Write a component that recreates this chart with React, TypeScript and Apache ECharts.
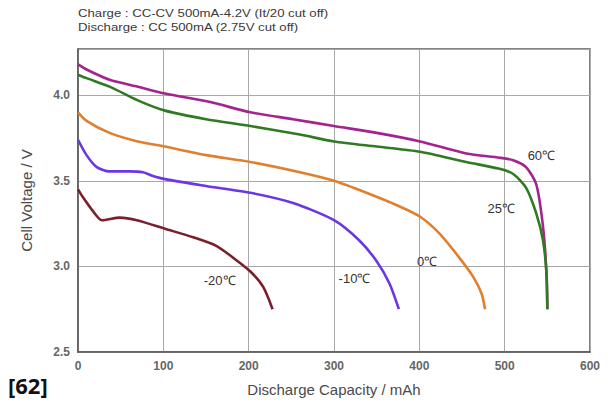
import React, { useEffect, useRef } from "react";
import * as echarts from "echarts";

const titleLines = [
  "Charge : CC-CV 500mA-4.2V (It/20 cut off)",
  "Discharge : CC 500mA (2.75V cut off)",
];
const xName = "Discharge Capacity / mAh";
const yName = "Cell Voltage / V";
const refTag = "[62]";

const curve60: [number, number][] = [
  [0, 4.18], [10, 4.15], [37, 4.09], [70, 4.05], [102, 4.01], [155, 3.96], [202, 3.9],
  [252, 3.86], [300, 3.82], [350, 3.78], [401, 3.73], [455, 3.66], [494, 3.635],
  [510, 3.62], [525, 3.58], [537, 3.48], [545, 3.23], [549, 2.96], [550, 2.75],
];
const curve25: [number, number][] = [
  [0, 4.12], [10, 4.1], [37, 4.05], [70, 3.97], [102, 3.91], [150, 3.86], [202, 3.82],
  [260, 3.77], [300, 3.73], [350, 3.7], [401, 3.67], [455, 3.61], [494, 3.57],
  [510, 3.54], [525, 3.46], [537, 3.31], [545, 3.15], [549, 2.96], [550, 2.75],
];
const curve0: [number, number][] = [
  [0, 3.9], [10, 3.85], [37, 3.78], [70, 3.73], [102, 3.7], [150, 3.65], [202, 3.61],
  [260, 3.55], [300, 3.5], [338, 3.43], [377, 3.35], [401, 3.29], [424, 3.19],
  [447, 3.05], [463, 2.94], [473, 2.84], [477, 2.75],
];
const curveM10: [number, number][] = [
  [0, 3.74], [10, 3.65], [22, 3.58], [37, 3.555], [60, 3.555], [76, 3.55], [87, 3.53],
  [102, 3.51], [150, 3.47], [202, 3.43], [252, 3.37], [300, 3.27], [330, 3.15],
  [350, 3.03], [365, 2.9], [376, 2.75],
];
const curveM20: [number, number][] = [
  [0, 3.45], [5, 3.41], [18, 3.32], [28, 3.27], [49, 3.285], [69, 3.27], [102, 3.22],
  [135, 3.17], [162, 3.12], [182, 3.05], [202, 2.97], [217, 2.88], [228, 2.75],
];

const seriesNames = ["60℃", "25℃", "0℃", "-10℃", "-20℃"];
const seriesData = [curve60, curve25, curve0, curveM10, curveM20];
const seriesColors = ["#a3238f", "#2f7a22", "#e07f2e", "#6a36e6", "#7b1f2c"];
const labelAt: [number, number][] = [
  [543, 3.65], [496, 3.34], [409, 3.03], [324, 2.93], [166, 2.915],
];

const xTicks = { min: 0, max: 600, interval: 100 };
const yTicks = { min: 2.5, max: 4.27, interval: 0.5 };

export default function App() {
  const ref = useRef<HTMLDivElement>(null);
  useEffect(() => {
    if (!ref.current) return;
    const chart = echarts.init(ref.current, undefined, { renderer: "svg" });
    const font = "Liberation Sans, Arial, sans-serif";
    chart.setOption({
      animation: false,
      backgroundColor: "#ffffff",
      grid: {
        left: 78, right: 18, top: 49, bottom: 52,
        show: true, borderColor: "#5a5a5a", borderWidth: 1.5,
      },
      graphic: [
        {
          type: "text", x: 78, y: 6, scaleX: 1.2,
          style: { text: titleLines.join("\n"), font: `11px ${font}`, fill: "#3a3a3a", lineHeight: 14 },
        },
        {
          type: "text", left: 8, top: 374,
          style: { text: refTag, font: `bold 22px "Open Sans", ${font}`, fill: "#111" },
        },
      ],
      xAxis: {
        type: "value", ...xTicks,
        name: xName, nameLocation: "middle", nameGap: 30,
        nameTextStyle: { fontFamily: font, fontSize: 15, color: "#4a4a4a" },
        axisLine: { show: true, lineStyle: { color: "#5a5a5a", width: 1.5 } },
        axisTick: { show: false },
        axisLabel: { fontFamily: font, fontSize: 12, fontWeight: "bold", color: "#666", margin: 8 },
        splitLine: { show: true, lineStyle: { color: "#a8a8a8", width: 1 } },
      },
      yAxis: {
        type: "value", ...yTicks,
        name: yName, nameLocation: "middle", nameGap: 44, nameRotate: 90,
        nameTextStyle: { fontFamily: font, fontSize: 15, color: "#4a4a4a" },
        axisLine: { show: true, lineStyle: { color: "#5a5a5a", width: 1.5 } },
        axisTick: { show: false },
        axisLabel: {
          fontFamily: font, fontSize: 12, fontWeight: "bold", color: "#666", margin: 8,
          showMaxLabel: false,
          formatter: (v: number) => (Math.abs(v / 0.5 - Math.round(v / 0.5)) < 1e-6 ? v.toFixed(1) : ""),
        },
        splitLine: { show: true, lineStyle: { color: "#a8a8a8", width: 1 } },
      },
      series: seriesData.map((d, i) => ({
        type: "line",
        name: seriesNames[i],
        data: d,
        smooth: 0.25,
        showSymbol: false,
        lineStyle: { color: seriesColors[i], width: 2.6 },
        markPoint: {
          symbol: "circle", symbolSize: 0,
          data: [{ coord: labelAt[i], value: seriesNames[i] }],
          label: {
            show: true, formatter: seriesNames[i], position: "inside",
            fontFamily: font, fontSize: 13, color: "#333",
          },
        },
      })),
    });
    return () => chart.dispose();
  }, []);
  return (
    <div
      ref={ref}
      style={{ position: "fixed", left: 0, top: 0, width: 608, height: 404 }}
    />
  );
}
